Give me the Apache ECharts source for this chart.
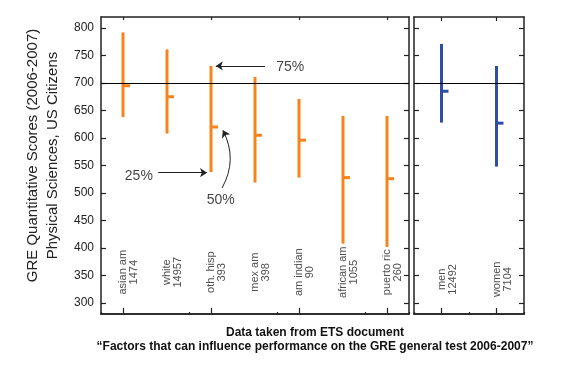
<!DOCTYPE html>
<html>
<head>
<meta charset="utf-8">
<script src="https://cdn.jsdelivr.net/npm/echarts@6/dist/echarts.min.js"></script>
<style>html,body{margin:0;padding:0;background:#fff}#c{width:575px;height:367px}</style>
</head>
<body>
<div id="c"></div>
<script>
// ---- data ----
const groupCats = ['asian am', 'white', 'oth. hisp', 'mex am', 'am indian', 'african am', 'puerto ric'];
const groupCounts = [1474, 14957, 393, 398, 90, 1055, 260];
const groupQ1 = [638, 608, 538, 519, 528, 408, 402];
const groupQ3 = [792, 761, 731, 711, 671, 640, 640];
const groupMed = [695, 675, 620, 605, 596, 528, 526];

const sexCats = ['men', 'women'];
const sexCounts = [12492, 7104];
const sexQ1 = [628, 548];
const sexQ3 = [771, 731];
const sexMed = [685, 627];

const yTicks = [300, 350, 400, 450, 500, 550, 600, 650, 700, 750, 800];
const refLine = 700;
const leftLabelY = 356;
const rightLabelY = 343;

const annoText = ['75%', '25%', '50%'];
const annoX = [3.8, 0.36, 2.22];
const annoY = [729, 531, 487];
const arrowFrom = [[3.23, 731], [0.80, 537], [2.25, 509]];
const arrowTo = [[2.11, 731], [1.91, 537], [2.27, 614]];
const arrowCurve = [0, 0, -0.27];

const orange = '#F7821E';
const blue = '#2D4DA7';
const ink = '#222';
const FONT = "'Liberation Sans', Arial, sans-serif";

function boxRender(color) {
  return function (params, api) {
    const x = api.value(0);
    const pLo = api.coord([x, api.value(1)]);
    const pHi = api.coord([x, api.value(2)]);
    const pMed = api.coord([x, api.value(3)]);
    return {
      type: 'group',
      children: [
        { type: 'line', shape: { x1: pLo[0], y1: pLo[1], x2: pHi[0], y2: pHi[1] }, style: { stroke: color, lineWidth: 3 } },
        { type: 'line', shape: { x1: pMed[0], y1: pMed[1], x2: pMed[0] + 7, y2: pMed[1] }, style: { stroke: color, lineWidth: 3 } }
      ]
    };
  };
}

const axisLine = { show: true, onZero: false, lineStyle: { color: ink, width: 1.5 } };
function yAx(grid, pos, labels) {
  return {
    type: 'value', gridIndex: grid, position: pos, min: 280, max: 820,
    splitLine: { show: false },
    axisLine: axisLine,
    axisTick: { show: true, inside: true, length: 5, customValues: yTicks, lineStyle: { color: ink, width: 1.2 } },
    axisLabel: { show: labels, customValues: yTicks, color: ink, fontSize: 12, fontFamily: FONT, margin: 7 }
  };
}
function xAx(grid, cats, pos, align, len) {
  return {
    type: 'category', gridIndex: grid, position: pos, data: cats,
    axisLine: axisLine,
    axisTick: { show: true, inside: true, alignWithLabel: align, length: len, lineStyle: { color: ink, width: 1.2 } },
    axisLabel: { show: false }, splitLine: { show: false }
  };
}

const chart = echarts.init(document.getElementById('c'));
const labelStyle = {
  show: true, rotate: 90, fontSize: 11, lineHeight: 11, color: ink, fontFamily: FONT,
  position: 'inside', offset: [0, 5.5],
  formatter: p => p.data[2] + '\n' + p.data[3]
};

chart.setOption({
  animation: false,
  grid: [
    { left: 101, top: 17, width: 308, height: 297 },
    { left: 414, top: 17, width: 110, height: 297 }
  ],
  xAxis: [
    xAx(0, groupCats, 'bottom', true, 6),
    xAx(0, groupCats, 'top', true, 3),
    xAx(1, sexCats, 'bottom', true, 6),
    xAx(1, sexCats, 'top', true, 4),
    { type: 'value', gridIndex: 0, min: -0.5, max: 6.5, show: false },
    xAx(0, groupCats, 'bottom', false, 2),
    xAx(1, sexCats, 'bottom', false, 2)
  ],
  yAxis: [
    Object.assign(yAx(0, 'left', true), {
      name: 'GRE Quantitative Scores (2006-2007)\nPhysical Sciences, US Citizens',
      nameLocation: 'middle', nameGap: 33,
      nameTextStyle: { fontSize: 15, lineHeight: 20, color: ink, fontFamily: FONT, align: 'center', padding: [0, 0, 0, 20] }
    }),
    yAx(0, 'right', false),
    yAx(1, 'left', false),
    yAx(1, 'right', false)
  ],
  graphic: [{
    type: 'text', x: 315, y: 340,
    style: {
      text: 'Data taken from ETS document\n\u201CFactors that can influence performance on the GRE general test 2006-2007\u201D',
      textAlign: 'center', textVerticalAlign: 'middle', fontSize: 12, fontWeight: 'bold',
      lineHeight: 14, fontFamily: FONT, fill: '#111'
    }
  }],
  series: [
    {
      type: 'custom', xAxisIndex: 0, yAxisIndex: 0, renderItem: boxRender(orange),
      data: groupCats.map((c, i) => [i, groupQ1[i], groupQ3[i], groupMed[i]]),
      markLine: { silent: true, symbol: 'none', label: { show: false }, lineStyle: { color: '#000', width: 1, type: 'solid' }, data: [{ yAxis: refLine }] }
    },
    {
      type: 'custom', xAxisIndex: 2, yAxisIndex: 2, renderItem: boxRender(blue),
      data: sexCats.map((c, i) => [i, sexQ1[i], sexQ3[i], sexMed[i]]),
      markLine: { silent: true, symbol: 'none', label: { show: false }, lineStyle: { color: '#000', width: 1, type: 'solid' }, data: [{ yAxis: refLine }] }
    },
    {
      type: 'scatter', xAxisIndex: 0, yAxisIndex: 0, symbolSize: 0, silent: true,
      data: groupCats.map((c, i) => [i, leftLabelY, c, groupCounts[i]]),
      label: labelStyle
    },
    {
      type: 'scatter', xAxisIndex: 2, yAxisIndex: 2, symbolSize: 0, silent: true,
      data: sexCats.map((c, i) => [i, rightLabelY, c, sexCounts[i]]),
      label: labelStyle
    },
    {
      type: 'scatter', xAxisIndex: 4, yAxisIndex: 0, symbolSize: 0, silent: true,
      data: annoText.map((t, i) => [annoX[i], annoY[i], t]),
      label: { show: true, position: 'inside', fontSize: 14, color: '#111', fontFamily: FONT, formatter: p => p.data[2] }
    },
    {
      type: 'lines', coordinateSystem: 'cartesian2d', xAxisIndex: 4, yAxisIndex: 0, silent: true,
      symbol: ['none', 'arrow'], symbolSize: 7,
      lineStyle: { color: ink, width: 1, opacity: 1 },
      data: arrowFrom.map((f, i) => ({ coords: [f, arrowTo[i]], lineStyle: { curveness: arrowCurve[i] } }))
    }
  ]
});
</script>
</body>
</html>
